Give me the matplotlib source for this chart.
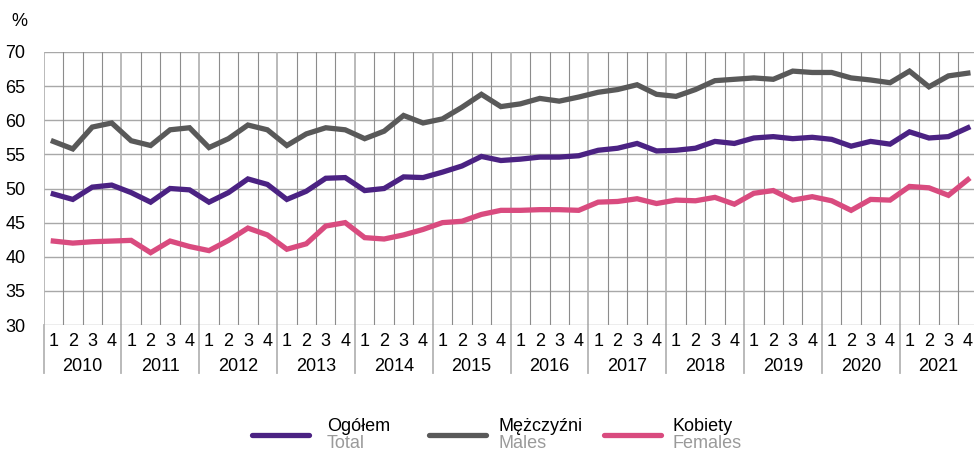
import matplotlib.pyplot as plt
from matplotlib.lines import Line2D
from matplotlib.transforms import blended_transform_factory

plt.rcParams['font.family'] = ['Liberation Sans', 'DejaVu Sans']

years = list(range(2010, 2022))
quarters = ['1', '2', '3', '4']

# kwartalne wskazniki, %
total = [49.2, 48.4, 50.2, 50.5, 49.4, 48.0, 50.0, 49.8,
         48.0, 49.4, 51.4, 50.6, 48.4, 49.6, 51.5, 51.6,
         49.7, 50.0, 51.7, 51.6, 52.4, 53.3, 54.7, 54.1,
         54.3, 54.6, 54.6, 54.8, 55.6, 55.9, 56.6, 55.5,
         55.6, 55.9, 56.9, 56.6, 57.4, 57.6, 57.3, 57.5,
         57.2, 56.2, 56.9, 56.5, 58.3, 57.4, 57.6, 58.9]
males = [56.9, 55.8, 59.0, 59.6, 57.0, 56.3, 58.6, 58.9,
         56.0, 57.3, 59.3, 58.6, 56.3, 58.0, 58.9, 58.6,
         57.3, 58.4, 60.7, 59.6, 60.2, 61.9, 63.8, 62.0,
         62.4, 63.2, 62.8, 63.4, 64.1, 64.5, 65.2, 63.8,
         63.5, 64.5, 65.8, 66.0, 66.2, 66.0, 67.2, 67.0,
         67.0, 66.2, 65.9, 65.5, 67.2, 64.9, 66.5, 66.9]
females = [42.3, 42.0, 42.2, 42.3, 42.4, 40.6, 42.3, 41.5,
           40.9, 42.4, 44.2, 43.2, 41.1, 41.9, 44.5, 45.0,
           42.8, 42.6, 43.2, 44.0, 45.0, 45.2, 46.2, 46.8,
           46.8, 46.9, 46.9, 46.8, 48.0, 48.1, 48.5, 47.8,
           48.3, 48.2, 48.7, 47.7, 49.3, 49.7, 48.3, 48.8,
           48.2, 46.8, 48.4, 48.3, 50.3, 50.1, 49.0, 51.3]

series = [
    ('Ogółem', 'Total', total, '#4b2283'),
    ('Mężczyźni', 'Males', males, '#595959'),
    ('Kobiety', 'Females', females, '#d94b7f'),
]

n = len(years) * 4
x = list(range(n))
fs = 13

fig = plt.figure(figsize=(9.74, 4.51), dpi=100)
ax = fig.add_axes([43.6 / 974, 1 - 325 / 451, 934 / 974, 273 / 451])

ax.set_xlim(-0.5, n - 0.5)
ax.set_ylim(30, 70)
ax.set_yticks(range(30, 71, 5))
ax.set_xticks([])
ax.tick_params(axis='y', length=0, pad=13, labelsize=fs)
for s in ax.spines.values():
    s.set_visible(False)

# siatka
for v in range(30, 71, 5):
    ax.axhline(v, color='#a8a8a8', lw=1.0, zorder=1)
for k in range(n + 1):
    if k % 4 == 0:
        ax.axvline(k - 0.5, color='#b4b4b4', lw=1.3, zorder=1)
    else:
        ax.axvline(k - 0.5, color='#8c8c8c', lw=0.8, zorder=1)

for name, _, vals, col in series:
    ax.plot(x, vals, color=col, lw=3.8, solid_joinstyle='miter', zorder=3)

# os x: kwartaly i lata
tr = blended_transform_factory(ax.transData, ax.transAxes)
for k in range(0, n + 1, 4):
    ax.plot([k - 0.5, k - 0.5], [0, -0.176], color='#b4b4b4', lw=1.3,
            transform=tr, clip_on=False)
for i in range(n):
    ax.text(i, -0.061, quarters[i % 4], transform=tr, ha='center', va='center',
            fontsize=fs)
for j, yr in enumerate(years):
    ax.text(j * 4 + 1.5, -0.152, str(yr), transform=tr, ha='center',
            va='center', fontsize=fs)

fig.text(11 / 974, 1 - 22 / 451, '%', ha='left', va='center', fontsize=fs)

# legenda
leg_line = [252, 429, 604]
leg_text = [327, 498, 673]
for (pl, en, _, col), lx, tx in zip(series, leg_line, leg_text):
    ly = 1 - 435 / 451
    fig.add_artist(Line2D([lx / 974, (lx + 57) / 974], [ly, ly], color=col,
                          lw=3.8, solid_capstyle='round'))
    fig.text(tx / 974, 1 - 431 / 451, pl, ha='left', va='baseline',
             fontsize=fs)
    fig.text(tx / 974, 1 - 448.5 / 451, en, ha='left', va='baseline',
             fontsize=fs, color='#9a9a9a')

fig.savefig('out.png', dpi=100)
